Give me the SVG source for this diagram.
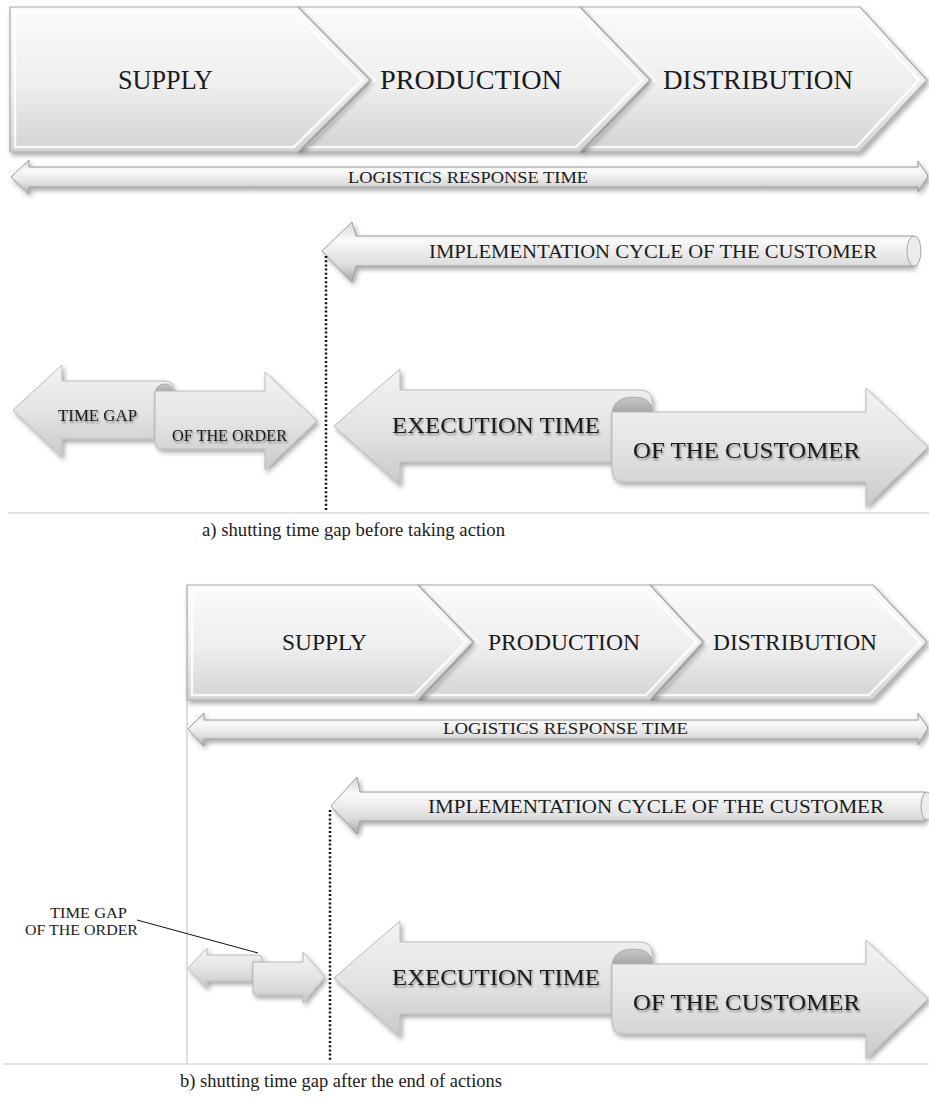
<svg xmlns="http://www.w3.org/2000/svg" width="929" height="1099" viewBox="0 0 929 1099">
<defs>
  <linearGradient id="chev" x1="0" y1="0" x2="0" y2="1">
    <stop offset="0" stop-color="#fbfbfb"/>
    <stop offset="0.55" stop-color="#eeeeee"/>
    <stop offset="1" stop-color="#d2d2d2"/>
  </linearGradient>
  <linearGradient id="arr" x1="0" y1="0" x2="0" y2="1">
    <stop offset="0" stop-color="#f3f3f3"/>
    <stop offset="0.5" stop-color="#e4e4e4"/>
    <stop offset="1" stop-color="#c9c9c9"/>
  </linearGradient>
  <linearGradient id="cyl" x1="0" y1="0" x2="0" y2="1">
    <stop offset="0" stop-color="#d6d6d6"/>
    <stop offset="0.3" stop-color="#fafafa"/>
    <stop offset="0.7" stop-color="#dedede"/>
    <stop offset="1" stop-color="#a9a9a9"/>
  </linearGradient>
  <linearGradient id="fold" x1="0" y1="0" x2="0" y2="1">
    <stop offset="0" stop-color="#c9c9c9"/>
    <stop offset="1" stop-color="#9e9e9e"/>
  </linearGradient>
  <filter id="sh" x="-10%" y="-20%" width="120%" height="150%">
    <feGaussianBlur in="SourceAlpha" stdDeviation="2.5"/>
    <feOffset dx="2" dy="3" result="b"/>
    <feComponentTransfer><feFuncA type="linear" slope="0.35"/></feComponentTransfer>
    <feMerge><feMergeNode/><feMergeNode in="SourceGraphic"/></feMerge>
  </filter>
  <filter id="ts" x="-5%" y="-30%" width="110%" height="160%">
    <feGaussianBlur in="SourceAlpha" stdDeviation="1.2"/>
    <feOffset dx="1" dy="1.5"/>
    <feComponentTransfer><feFuncA type="linear" slope="0.45"/></feComponentTransfer>
    <feMerge><feMergeNode/><feMergeNode in="SourceGraphic"/></feMerge>
  </filter>
</defs>
<style>
  .chev{fill:url(#chev);stroke:#a8a8a8;stroke-width:1.2;filter:url(#sh)}
  .bevel{fill:none;stroke:#ffffff;stroke-width:2.5;stroke-opacity:0.85}
  .arr{fill:url(#arr);stroke:#b9b9b9;stroke-width:1;filter:url(#sh)}
  .cyl{fill:url(#cyl);stroke:#9a9a9a;stroke-width:1;filter:url(#sh)}
  .fold{fill:url(#fold);stroke:#a0a0a0;stroke-width:0.8}
  .t{font-family:"Liberation Serif","Times New Roman",serif;fill:#1b1b1b}
  .ts{filter:url(#ts)}
  .sep{stroke:#c8c8c8;stroke-width:1.2;fill:none}
  .dot{stroke:#111;stroke-width:2.5;stroke-dasharray:2 2.2;fill:none}
</style>

<!-- ===== Section a ===== -->
<g id="a-distribution">
  <path class="chev" d="M580,7 H860 L927,80 L860,152 H580 L650,80 Z"/>
  <path class="bevel" d="M588,12 H856 L919,80 L856,147 H588 L655,80 Z"/>
  <text class="t" x="663" y="89" font-size="27" textLength="190" lengthAdjust="spacingAndGlyphs">DISTRIBUTION</text>
</g>
<g id="a-production">
  <path class="chev" d="M298,7 H580 L650,80 L580,152 H298 L370,80 Z"/>
  <path class="bevel" d="M306,12 H576 L642,80 L576,147 H306 L375,80 Z"/>
  <text class="t" x="380" y="89" font-size="27" textLength="182" lengthAdjust="spacingAndGlyphs">PRODUCTION</text>
</g>
<g id="a-supply">
  <path class="chev" d="M10,7 H298 L370,80 L298,152 H10 Z"/>
  <path class="bevel" d="M15,12 H294 L362,80 L294,147 H15 Z"/>
  <text class="t" x="118" y="89" font-size="27" textLength="95" lengthAdjust="spacingAndGlyphs">SUPPLY</text>
</g>
<g id="a-logistics">
  <path class="cyl" d="M11,177 L29,160 V167 H918 V161 L928,176 L918,192 V187 H29 V194 Z"/>
  <text class="t" x="348" y="183" font-size="17" textLength="240" lengthAdjust="spacingAndGlyphs">LOGISTICS RESPONSE TIME</text>
</g>
<g id="a-implementation">
  <path class="cyl" d="M322,251 L352,222 L356,236 H914 V266 H356 L352,282 Z"/>
  <ellipse cx="914" cy="251" rx="7" ry="15" fill="#ececec" stroke="#a5a5a5" stroke-width="1"/>
  <text class="t" x="429" y="258" font-size="19" textLength="448" lengthAdjust="spacingAndGlyphs">IMPLEMENTATION CYCLE OF THE CUSTOMER</text>
</g>
<g id="a-timegap">
  <path class="arr" d="M13,410 L62,365 V381 H165 Q173,381 173,389 V393 H155 V439 H62 V457 Z"/>
  <path class="fold" d="M155,396 Q155,384 165,384 Q173,384 173,394 Z"/>
  <path class="arr" d="M155,391 H265 V372 L317,421 L265,470 V449 H163 Q155,449 155,441 Z"/>
  <text class="t ts" x="58" y="421" font-size="16" textLength="79" lengthAdjust="spacingAndGlyphs">TIME GAP</text>
  <text class="t ts" x="172" y="441" font-size="16" textLength="115" lengthAdjust="spacingAndGlyphs">OF THE ORDER</text>
</g>
<g id="a-execution">
  <path class="arr" d="M334,426 L400,369 V390 H640 Q652,390 652,402 V412 H612 V462 H400 V485 Z"/>
  <path class="fold" d="M612,416 Q612,397 634,397 Q652,397 652,412 Z"/>
  <path class="arr" d="M612,412 H866 V388 L928,447 L866,507 V482 H624 Q612,482 612,470 Z"/>
  <text class="t ts" x="392" y="433" font-size="24" textLength="208" lengthAdjust="spacingAndGlyphs">EXECUTION TIME</text>
  <text class="t ts" x="633" y="458" font-size="24" textLength="227" lengthAdjust="spacingAndGlyphs">OF THE CUSTOMER</text>
</g>
<g id="a-caption">
  <text class="t" x="202" y="536" font-size="19" textLength="303" lengthAdjust="spacingAndGlyphs">a) shutting time gap before taking action</text>
</g>

<!-- ===== Section b ===== -->
<g id="b-distribution">
  <path class="chev" d="M650,585 H873 L927,642 L873,700 H650 L703,642 Z"/>
  <path class="bevel" d="M658,590 H869 L920,642 L869,695 H658 L708,642 Z"/>
  <text class="t" x="713" y="650" font-size="24" textLength="164" lengthAdjust="spacingAndGlyphs">DISTRIBUTION</text>
</g>
<g id="b-production">
  <path class="chev" d="M418,585 H650 L703,642 L650,700 H418 L473,642 Z"/>
  <path class="bevel" d="M426,590 H646 L696,642 L646,695 H426 L478,642 Z"/>
  <text class="t" x="488" y="650" font-size="24" textLength="152" lengthAdjust="spacingAndGlyphs">PRODUCTION</text>
</g>
<g id="b-supply">
  <path class="chev" d="M187,585 H418 L473,642 L418,700 H187 Z"/>
  <path class="bevel" d="M192,590 H414 L466,642 L414,695 H192 Z"/>
  <text class="t" x="282" y="650" font-size="24" textLength="85" lengthAdjust="spacingAndGlyphs">SUPPLY</text>
</g>
<g id="b-logistics">
  <path class="cyl" d="M188,729 L204,713 V720 H918 V713 L928,728 L918,745 V739 H204 V746 Z"/>
  <text class="t" x="443" y="734" font-size="17" textLength="245" lengthAdjust="spacingAndGlyphs">LOGISTICS RESPONSE TIME</text>
</g>
<g id="b-implementation">
  <path class="cyl" d="M331,806 L357,777 L360,792 H925 V821 H360 L357,834 Z"/>
  <ellipse cx="927" cy="806" rx="6" ry="14" fill="#ececec" stroke="#a5a5a5" stroke-width="1"/>
  <text class="t" x="428" y="813" font-size="19" textLength="456" lengthAdjust="spacingAndGlyphs">IMPLEMENTATION CYCLE OF THE CUSTOMER</text>
</g>
<g id="b-timegap">
  <path class="arr" d="M188,968 L207,948 V955 H258 Q262,955 262,959 V962 H253 V981 H207 V988 Z"/>
  <path class="arr" d="M253,962 H303 V952 L325,977 L303,1003 V995 H256 Q253,995 253,992 Z"/>
</g>
<g id="b-timegap-label">
  <text class="t" x="50" y="918" font-size="15" textLength="77" lengthAdjust="spacingAndGlyphs">TIME GAP</text>
  <text class="t" x="25" y="935" font-size="15" textLength="113" lengthAdjust="spacingAndGlyphs">OF THE ORDER</text>
</g>
<g id="b-execution" transform="translate(0,552)">
  <path class="arr" d="M334,426 L400,369 V390 H640 Q652,390 652,402 V412 H612 V462 H400 V485 Z"/>
  <path class="fold" d="M612,416 Q612,397 634,397 Q652,397 652,412 Z"/>
  <path class="arr" d="M612,412 H866 V388 L928,447 L866,507 V482 H624 Q612,482 612,470 Z"/>
  <text class="t ts" x="392" y="433" font-size="24" textLength="208" lengthAdjust="spacingAndGlyphs">EXECUTION TIME</text>
  <text class="t ts" x="633" y="458" font-size="24" textLength="227" lengthAdjust="spacingAndGlyphs">OF THE CUSTOMER</text>
</g>
<g id="b-caption">
  <text class="t" x="180" y="1087" font-size="19" textLength="322" lengthAdjust="spacingAndGlyphs">b) shutting time gap after the end of actions</text>
</g>

<!-- ===== Connectors / lines ===== -->
<g id="connectors">
  <line class="sep" x1="8" y1="513" x2="929" y2="513"/>
  <line class="sep" x1="3" y1="1064" x2="929" y2="1064"/>
  <line class="sep" x1="187" y1="700" x2="187" y2="1064"/>
  <line class="dot" x1="326" y1="256" x2="326" y2="511"/>
  <line class="dot" x1="330" y1="810" x2="330" y2="1062"/>
  <line x1="137" y1="920" x2="258" y2="953" stroke="#111" stroke-width="1"/>
</g>
</svg>
